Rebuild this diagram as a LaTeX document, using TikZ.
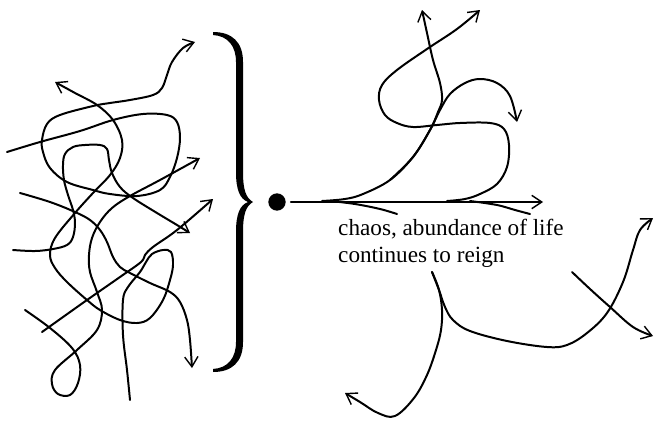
\documentclass[tikz,border=0pt]{standalone}
\usepackage{fontspec}
\setmainfont{Liberation Serif}
\usepackage{tikz}
\usetikzlibrary{arrows.meta}
\tikzset{
  strand/.style    = {line width=1.7pt,line cap=round,line join=round},
  strandarr/.style = {strand,-{Straight Barb[length=3mm,width=4mm,line width=1.2pt]}},
  wiggle/.style    = {smooth,tension=0.6}
}

\begin{document}
\begin{tikzpicture}[x=0.03cm,y=-0.03cm]
  \useasboundingbox (0,0) rectangle (657,420);
  % the tangle on the left
  \draw[strandarr] plot[wiggle] coordinates {(7,152) (40,142) (80,131) (113,120) (143,114) (167,115) (177,122)
    (180,138) (177,158) (170,177) (160,190) (137,196) (110,194) (93,190) (67,182) (50,168) (43,152) (42,140)
    (47,124) (60,115) (93,106) (110,103) (130,100) (153,95) (162,88) (167,75) (172,62) (183,48) (195,42)};
  \draw[strandarr] plot[wiggle] coordinates {(130,400) (127,370) (123,335) (123,300) (128,287) (140,272) (146,262)
    (152,254) (163,250) (171,252) (173,265) (170,280) (163,300) (150,318) (137,323) (120,320) (100,310) (87,300)
    (67,282) (55,268) (50,255) (55,238) (75,213) (93,193) (110,175) (120,158) (122,140) (113,120) (97,105)
    (75,93) (55,82)};
  \draw[strandarr] plot[wiggle] coordinates {(13,250) (35,251) (53,249) (67,245) (73,237) (75,223) (73,210)
    (68,195) (64,180) (63,165) (65,154) (73,147) (85,145) (100,145) (107,149) (109,160) (112,173) (120,187)
    (133,198) (157,213) (177,225) (190,233)};
  \draw[strandarr] plot[wiggle] coordinates {(25,310) (50,328) (72,348) (80,365) (78,383) (70,395) (58,394)
    (52,384) (55,370) (77,350) (97,330) (102,310) (97,292) (90,272) (89,255) (92,238) (100,222) (112,208)
    (130,196) (160,180) (200,158)};
  \draw[strandarr] plot[wiggle] coordinates {(20,193) (50,202) (75,212) (90,220) (100,230) (107,242) (113,257)
    (120,267) (130,273) (150,283) (170,292) (180,302) (187,320) (190,340) (192,368)};
  \draw[strandarr] plot[wiggle] coordinates {(42,332) (87,300) (120,277) (141,262) (145,255) (153,247)
    (177,230) (213,199)};
  % brace
  \fill (213,32) .. controls (232,32) and (243,42) .. (243,62) -- (243,172)
    .. controls (243,190) and (246,198) .. (253,202) .. controls (246,206) and (243,214) .. (243,232)
    -- (243,342) .. controls (243,362) and (232,372) .. (213,372) -- (213,369)
    .. controls (228,368) and (236,358) .. (236,342) -- (236,232)
    .. controls (236,214) and (240,205) .. (248,202) .. controls (240,199) and (236,190) .. (236,172)
    -- (236,62) .. controls (236,46) and (228,36) .. (213,35) -- cycle;
  % the straight line of evolution
  \node[circle,fill,inner sep=0pt,minimum size=0.52cm] (origin) at (277,202) {};
  \coordinate (lineend) at (543,202);
  \draw[strandarr,shorten <=0.15cm] (origin) -- (lineend);
  % branches above the line
  \draw[strandarr] plot[wiggle] coordinates {(322,201) (345,199) (363,194) (390,180) (413,157) (430,130)
    (440,110) (450,94) (465,83) (480,79) (497,83) (510,96) (517,122)};
  \draw[strandarr] plot[wiggle] coordinates {(390,180) (413,157) (430,130) (438,112) (442,100) (440,83)
    (433,60) (427,33) (422,10)};
  \draw[strandarr] plot[wiggle] coordinates {(447,201) (465,199) (480,194) (497,184) (507,167) (509,145)
    (504,129) (490,123) (460,123) (437,125) (413,127) (397,123) (385,115) (379,100) (382,85) (397,70)
    (427,49) (457,29) (480,10)};
  % branches below the line
  \draw[strand] plot[wiggle] coordinates {(330,201) (355,204) (380,209) (397,214)};
  \draw[strand] plot[wiggle] coordinates {(470,201) (497,205) (515,210) (530,214)};
  \draw[strandarr] plot[wiggle] coordinates {(432,272) (439,290) (442,310) (441,330) (436,350) (427,375)
    (414,398) (395,416) (378,413) (360,402) (345,393)};
  \draw[strandarr] plot[wiggle] coordinates {(432,272) (439,290) (445,307) (453,320) (470,331) (507,341)
    (547,347) (567,345) (587,333) (607,313) (623,282) (633,250) (640,230) (653,218)};
  \draw[strandarr] plot[wiggle] coordinates {(572,272) (590,289) (610,307) (633,327) (653,336)};
  \node[anchor=north west,align=left,inner sep=0pt,font=\fontsize{19.8}{23}\selectfont] (caption)
    at (338,219) {chaos, abundance of life\\continues to reign};
\end{tikzpicture}
\end{document}
